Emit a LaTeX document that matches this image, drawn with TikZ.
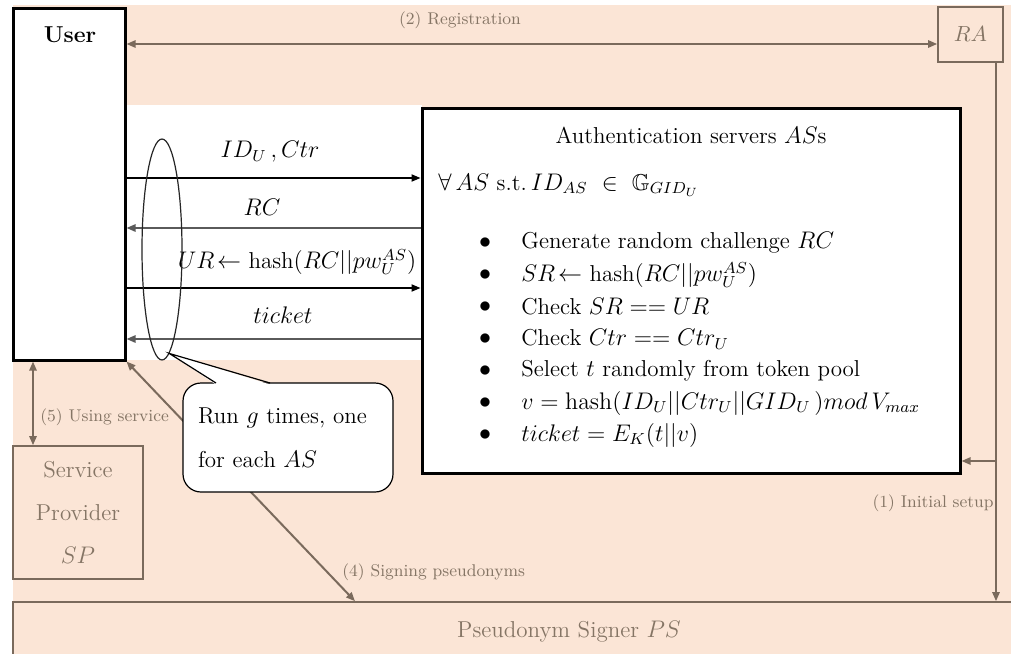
\documentclass[tikz,border=0pt]{standalone}
\usepackage{amssymb}
\usetikzlibrary{arrows.meta,shapes.geometric}
\definecolor{peach}{HTML}{FBE5D6}
\definecolor{taupe}{HTML}{7A6A5C}
\definecolor{labelgray}{HTML}{857565}
\definecolor{retgray}{HTML}{5A5A5A}
\begin{document}
\begin{tikzpicture}[x=0.5pt,y=-0.5pt,
  >={Triangle[length=4.5pt,width=3.6pt]},
  body/.style={font=\fontsize{11.5}{14}\selectfont, inner sep=0.5pt},
  lbl/.style={font=\fontsize{8.5}{10}\selectfont, text=labelgray, inner sep=0},
  whitebox/.style={draw=black, line width=1.5pt, fill=white, inner sep=0},
  softbox/.style={draw=taupe, line width=0.8pt, fill=peach, inner sep=0},
  flow/.style={draw=taupe, line width=1pt},
  fwd/.style={draw=black, line width=0.7pt, ->},
  back/.style={draw=retgray, line width=1pt, ->}]
\useasboundingbox (0,0) rectangle (1011,653);
% backgrounds
\fill[peach] (13,5) rectangle (1011,653);
\fill[white] (125,105) rectangle (422,360);

% entities
\node[whitebox, minimum width=56pt, minimum height=176pt] (user) at (69,184) {};
\node[font=\fontsize{11.5}{13}\selectfont\bfseries] (usertitle) at (70,35) {User};
\node[whitebox, minimum width=269pt, minimum height=182.5pt] (as) at (691,290.5) {};
\node[softbox, minimum width=32.5pt, minimum height=27.5pt, text=labelgray,
      font=\fontsize{11}{13}\selectfont] (ra) at (970.5,34.5) {$RA$};
\node[softbox, minimum width=65pt, minimum height=66.5pt, align=center, text=labelgray,
      font=\fontsize{11.5}{21.5}\selectfont] (sp) at (78,512.5) {Service\\Provider\\$SP$};
\node[softbox, minimum width=507pt, minimum height=30pt] (ps) at (520,632) {};
\node[body, text=labelgray] (pstext) at (569,632) {Pseudonym Signer $PS$};

% registration and setup
\draw[flow, <->] (user.east |- 0,44) -- (ra.west |- 0,44);
\node[lbl] (reglbl) at (460,20) {(2) Registration};
\coordinate (split) at (996,461);
\draw[flow, ->] (ra.south -| split) -- (ps.north -| split);
\draw[flow, ->] (split) -- (as.east |- split);
\node[lbl, anchor=east] (setuplbl) at (994,503) {(1) Initial setup};

% service and signing
\draw[flow, <->] (user.south -| 33,0) -- (sp.north -| 33,0);
\node[lbl, anchor=west] (uselbl) at (40,417) {(5) Using service};
\draw[flow, <->] (user.south east) -- (ps.north -| 355,0);
\node[lbl, anchor=west] (signlbl) at (342,572) {(4) Signing pseudonyms};

% protocol messages
\draw[fwd] (user.east |- 0,178) -- (as.west |- 0,178);
\node[body] (m1) at (270,152) {$ID_U\,,Ctr$};
\draw[back] (as.west |- 0,228) -- (user.east |- 0,228);
\node[body] (m2) at (262,207) {$RC$};
\draw[fwd] (user.east |- 0,288) -- (as.west |- 0,288);
\node[body] (m3) at (297,262) {$UR\!\leftarrow$ hash$(RC||pw_U^{AS})$};
\draw[back] (as.west |- 0,339) -- (user.east |- 0,339);
\node[body] (m4) at (283,315) {$ticket$};

% repetition marker and callout
\node[draw=black!85, ellipse, line width=0.6pt, minimum width=20pt, minimum height=110.5pt,
      inner sep=0] (loop) at (162,249.5) {};
\node[draw=black, fill=white, rounded corners=9pt, line width=0.6pt, minimum width=105pt,
      minimum height=54.5pt, inner sep=0, text width=90pt, align=left,
      font=\fontsize{11.5}{22}\selectfont] (bubble) at (288,437.5) {Run $g$ times, one\\for each $AS$};
\fill[white] (216,384.5) -- (loop.-86) -- (270,384.5) -- cycle;
\draw[line width=0.6pt] (216,383) -- (loop.-86) -- (270,383);

% server side procedure
\node[body] (astitle) at (691,135) {Authentication servers $AS$s};
\node[body, anchor=west] (ascond) at (437,185) {$\forall\, AS$ s.t.$\,ID_{AS}\ \in\ \mathbb{G}_{GID_U}$};
\foreach \txt [count=\i] in {
  {Generate random challenge $RC$},
  {$SR\!\leftarrow$ hash$(RC||pw_U^{AS})$},
  {Check $SR == UR$},
  {Check $Ctr == Ctr_U$},
  {Select $t$ randomly from token pool},
  {$v=\mathrm{hash}\big(ID_U||Ctr_U||GID_U\,\big)mod\,V_{max}$},
  {$ticket=E_K(t||v)$}} {
  \node[body] (dot\i) at (485,211+32*\i) {$\bullet$};
  \node[body, anchor=west] (item\i) at (520,211+32*\i) {\txt};
}
\end{tikzpicture}
\end{document}
